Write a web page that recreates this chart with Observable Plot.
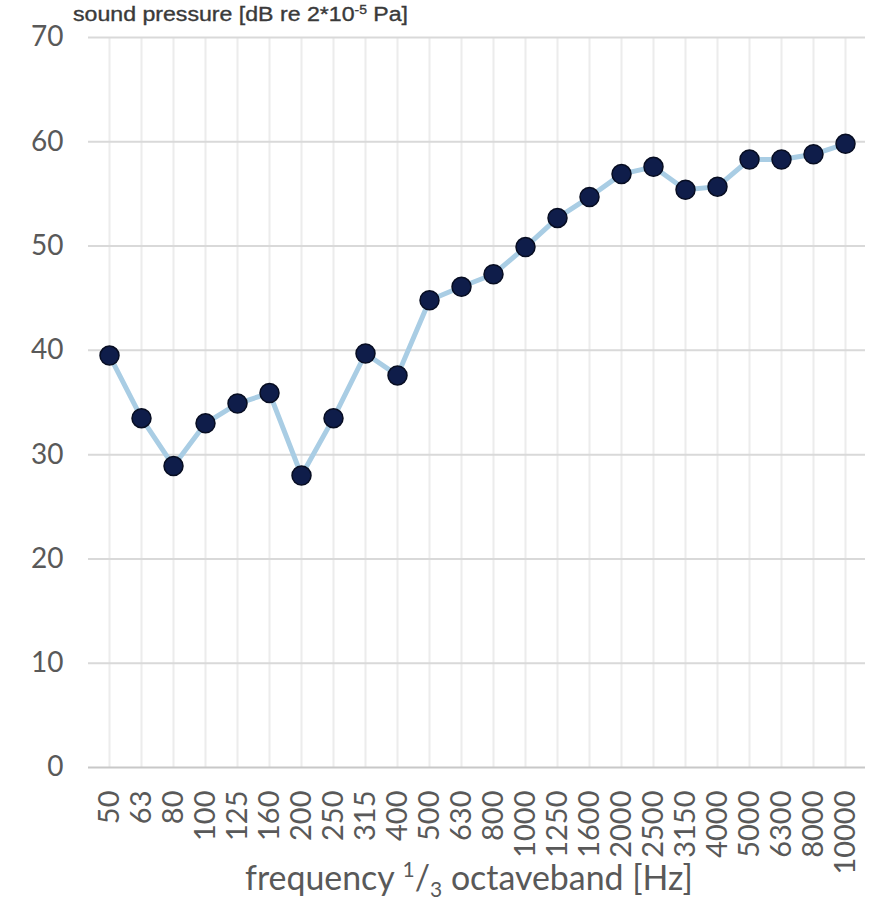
<!DOCTYPE html>
<html>
<head>
<meta charset="utf-8">
<script src="https://cdn.jsdelivr.net/npm/d3@7"></script>
<script src="https://cdn.jsdelivr.net/npm/@observablehq/plot@0.6"></script>
<style>
  body { margin: 0; background: #fff; }
  #wrap { position: relative; width: 871px; height: 900px; overflow: hidden; }
  #title { position: absolute; left: 73px; top: 3px; font-family: "Liberation Sans", Arial, sans-serif; font-size: 20px; color: #3a3a3a; -webkit-text-stroke: 0.35px #3a3a3a; white-space: nowrap; transform-origin: 0 0; }
  #title sup { font-size: 12px; vertical-align: 7px; line-height: 0; }
  #xlabel { position: absolute; left: 245px; top: 856px; font-family: Lato, "Open Sans", sans-serif; font-size: 34px; color: #595959; white-space: nowrap; transform-origin: 0 0; }
  #xlabel sup, #xlabel sub { font-size: 21px; line-height: 0; }
  #xlabel sup { vertical-align: 13px; }
  #xlabel sub { vertical-align: -7px; }
</style>
</head>
<body>
<div id="wrap">
  <div id="chart"></div>
  <div id="title">sound pressure [dB re 2*10<sup>-5</sup> Pa]</div>
  <div id="xlabel">frequency <sup>1</sup>/<sub>3</sub> octaveband [Hz]</div>
</div>
<script>
const freqs = ["50","63","80","100","125","160","200","250","315","400","500","630","800","1000","1250","1600","2000","2500","3150","4000","5000","6300","8000","10000"];
const levels = [39.5,33.5,28.9,33.0,34.9,35.9,28.0,33.5,39.7,37.6,44.8,46.1,47.3,49.9,52.7,54.7,56.9,57.6,55.4,55.7,58.3,58.3,58.8,59.8];
const yTicks = [0,10,20,30,40,50,60,70];

const data = freqs.map((f, i) => ({freq: f, level: levels[i]}));

const chart = Plot.plot({
  width: 871,
  height: 900,
  marginTop: 37,
  marginLeft: 88,
  marginRight: 6,
  marginBottom: 133,
  style: {fontFamily: "Lato, 'Open Sans', sans-serif", color: "#595959", background: "#fff"},
  x: {type: "point", domain: freqs, padding: 0.5, label: null},
  y: {domain: [0, 70], label: null},
  marks: [
    Plot.gridX(freqs, {stroke: "#ececec", strokeWidth: 2, strokeOpacity: 1}),
    Plot.gridY(yTicks.slice(1), {stroke: "#d9d9d9", strokeWidth: 2, strokeOpacity: 1}),
    Plot.ruleY([0], {stroke: "#c8c8c8", strokeWidth: 2}),
    Plot.line(data, {x: "freq", y: "level", stroke: "#a9cde4", strokeWidth: 5}),
    Plot.dot(data, {x: "freq", y: "level", r: 9.5, fill: "#0f1d4a", stroke: "#070d22", strokeWidth: 1.5}),
    Plot.axisX(freqs, {tickSize: 0, tickPadding: 23, tickRotate: -90, fontSize: 29, fill: "#595959", label: null}),
    Plot.axisY(yTicks, {tickSize: 0, tickPadding: 25, fontSize: 28, fill: "#595959", label: null})
  ]
});
document.getElementById("chart").appendChild(chart);

// stretch header/footer text to the widths seen in the reference
function fit(id, target) {
  const el = document.getElementById(id);
  const w = el.getBoundingClientRect().width;
  el.style.transform = `scaleX(${target / w})`;
}
fit("title", 335);
fit("xlabel", 448);
</script>
</body>
</html>
